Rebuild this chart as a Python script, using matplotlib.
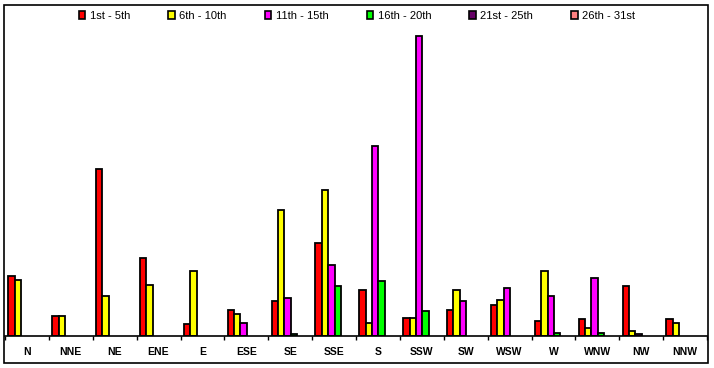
import numpy as np
import matplotlib.pyplot as plt
from matplotlib.patches import Rectangle

plt.rcParams['font.family'] = ['Liberation Sans', 'DejaVu Sans']

directions = ["N", "NNE", "NE", "ENE", "E", "ESE", "SE", "SSE",
              "S", "SSW", "SW", "WSW", "W", "WNW", "NW", "NNW"]
series_names = ["1st - 5th", "6th - 10th", "11th - 15th",
                "16th - 20th", "21st - 25th", "26th - 31st"]
series_colors = ["#ff0000", "#ffff00", "#ff00ff", "#00ff00", "#660066", "#ff8080"]

d1_5 = [60, 20, 167, 78, 12, 26, 35, 93, 46, 18, 26, 31, 15, 17, 50, 17]
d6_10 = [56, 20, 40, 51, 65, 22, 126, 146, 13, 18, 46, 36, 65, 8, 5, 13]
d11_15 = [0, 0, 0, 0, 0, 13, 38, 71, 190, 300, 35, 48, 40, 58, 2, 0]
d16_20 = [0, 0, 0, 0, 0, 0, 2, 50, 55, 25, 0, 0, 3, 3, 0, 0]
d21_25 = [0] * 16
d26_31 = [0] * 16
series = [d1_5, d6_10, d11_15, d16_20, d21_25, d26_31]

W, H = 714, 368
fig = plt.figure(figsize=(W / 100, H / 100), dpi=100)
ax = fig.add_axes([5 / W, (H - 336) / H, 702 / W, 316 / H])

x = np.arange(len(directions))
bw = 0.145
for j, (vals, col) in enumerate(zip(series, series_colors)):
    v = np.array(vals, dtype=float)
    mask = v > 0
    ax.bar(x[mask] + 0.075 + j * bw, v[mask], width=bw, align='edge',
           color=col, edgecolor='black', linewidth=1.3)

ax.set_xlim(0, len(directions))
ax.set_ylim(0, 316)
for s in ['top', 'left', 'right']:
    ax.spines[s].set_visible(False)
ax.spines['bottom'].set_linewidth(1.2)
ax.set_yticks([])
ax.set_xticks(x + 0.5)
ax.set_xticklabels(directions, fontsize=7.5, fontweight='bold')
ax.tick_params(axis='x', which='major', length=0, pad=8)
ax.set_xticks(np.arange(len(directions) + 1), minor=True)
ax.tick_params(axis='x', which='minor', length=3, width=1, direction='out')

handles = [Rectangle((0, 0), 1, 1, facecolor=c, edgecolor='black', linewidth=1.2)
           for c in series_colors]
fig.legend(handles, series_names, loc='center', bbox_to_anchor=(0.5, 1 - 16 / H),
           ncol=6, frameon=False, fontsize=8, handlelength=0.6, handleheight=0.7,
           handletextpad=0.4, columnspacing=3.42)

fig.patches.append(Rectangle((4 / W, (H - 363) / H), 704 / W, 358 / H,
                             transform=fig.transFigure, fill=False,
                             edgecolor='black', linewidth=1.2))

fig.savefig("out.png", dpi=100)
